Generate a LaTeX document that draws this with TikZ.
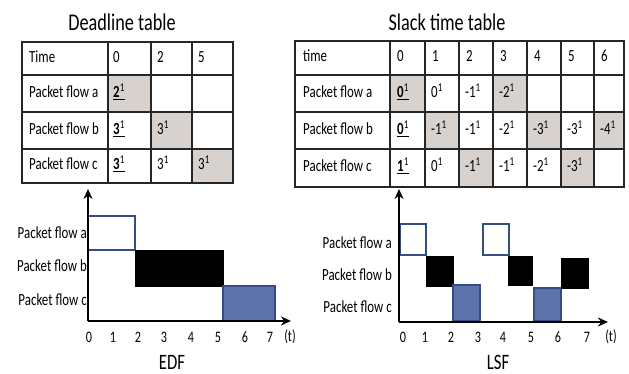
\documentclass[tikz,border=0pt]{standalone}
\usepackage{fontspec}
\setmainfont[FakeStretch=0.76]{Carlito}
\usetikzlibrary{positioning, arrows.meta}

\definecolor{cellgray}{RGB}{216,210,206}
\definecolor{flowblue}{RGB}{92,116,170}
\definecolor{edgeblue}{RGB}{52,78,132}

\newcommand{\nowval}[1]{\underline{\textbf{#1}\textsuperscript{1}}}
\newcommand{\pval}[1]{#1\textsuperscript{1}}

\tikzset{
  tabline/.style={draw=black!85, line width=1.3pt, line cap=rect},
  celltext/.style={anchor=west, inner sep=0pt, text height=11pt, text depth=3pt, font=\fontsize{17}{19}\selectfont},
  tabtitle/.style={font=\fontsize{24}{27}\selectfont},
  flowlabel/.style={anchor=east, inner sep=0pt, font=\fontsize{17}{19}\selectfont},
  ticklabel/.style={inner sep=0pt, font=\fontsize{16}{18}\selectfont},
  algname/.style={font=\fontsize{22}{25}\selectfont},
  slota/.style={draw=edgeblue, line width=1.5pt, fill=white},
  slotb/.style={draw=black, line width=1pt, fill=black},
  slotc/.style={draw=edgeblue, line width=1.5pt, fill=flowblue},
  axis/.style={line width=1.8pt, -{Stealth[length=10pt,width=9pt]}},
}

\begin{document}
\begin{tikzpicture}[x=1pt, y=-1pt]
\useasboundingbox (0,0) rectangle (629,374);

% deadline table
\node (dtitle) [tabtitle] at (122,22) {Deadline table};
\fill [cellgray] (108,75) rectangle (151,112);
\fill [cellgray] (151,112) rectangle (192,149);
\fill [cellgray] (192,149) rectangle (233,183);
\foreach \y in {42,75,112,149,183} \draw [tabline] (22,\y) -- (233,\y);
\foreach \x in {22,108,151,192,233} \draw [tabline] (\x,42) -- (\x,183);
\node (dh) [celltext] at (29,58.5) {Time};
\node (dh0) [celltext] at (113,58.5) {0};
\node (dh2) [celltext] at (157,58.5) {2};
\node (dh5) [celltext] at (198,58.5) {5};
\node (da) [celltext] at (29,93.5) {Packet flow a};
\node (da0) [celltext] at (113,93.5) {\nowval{2}};
\node (db) [celltext] at (29,130.5) {Packet flow b};
\node (db0) [celltext] at (113,130.5) {\nowval{3}};
\node (db2) [celltext] at (157,130.5) {\pval{3}};
\node (dc) [celltext] at (29,166) {Packet flow c};
\node (dc0) [celltext] at (113,166) {\nowval{3}};
\node (dc2) [celltext] at (157,166) {\pval{3}};
\node (dc5) [celltext] at (198,166) {\pval{3}};

% slack time table
\node (stitle) [tabtitle] at (447,22) {Slack time table};
\fill [cellgray] (390,75) rectangle (425,112);
\fill [cellgray] (493,75) rectangle (527,112);
\fill [cellgray] (425,112) rectangle (459,149);
\fill [cellgray] (527,112) rectangle (561,149);
\fill [cellgray] (594,112) rectangle (624,149);
\fill [cellgray] (459,149) rectangle (493,187);
\fill [cellgray] (561,149) rectangle (594,187);
\foreach \y in {41,75,112,149,187} \draw [tabline] (295,\y) -- (624,\y);
\foreach \x in {295,390,425,459,493,527,561,594,624} \draw [tabline] (\x,41) -- (\x,187);
\node (sh) [celltext] at (303,58) {time};
\foreach \x/\v [count=\i from 0] in {390/0,425/1,459/2,493/3,527/4,561/5,594/6}
  \node (sh\i) [celltext] at (\x+7,58) {\v};
\node (sa) [celltext] at (303,93.5) {Packet flow a};
\node (sa0) [celltext] at (397,93.5) {\nowval{0}};
\foreach \x/\v [count=\i] in {425/0,459/-1,493/-2}
  \node (sa\i) [celltext] at (\x+6,93.5) {\pval{\v}};
\node (sb) [celltext] at (303,130.5) {Packet flow b};
\node (sb0) [celltext] at (397,130.5) {\nowval{0}};
\foreach \x/\v [count=\i] in {425/-1,459/-1,493/-2,527/-3,561/-3,594/-4}
  \node (sb\i) [celltext] at (\x+6,130.5) {\pval{\v}};
\node (sc) [celltext] at (303,168) {Packet flow c};
\node (sc0) [celltext] at (397,168) {\nowval{1}};
\foreach \x/\v [count=\i] in {425/0,459/-1,493/-1,527/-2,561/-3}
  \node (sc\i) [celltext] at (\x+6,168) {\pval{\v}};

% EDF schedule
\coordinate (eo) at (88,321);
\coordinate (ey) at (88,189);
\coordinate (ex) at (291,321);
\draw [slota] (88,216) rectangle (135,250);
\draw [slotb] (135,250) rectangle (223,286);
\draw [slotc] (223,286) rectangle (275,321);
\node (ela) [flowlabel] at (87,233) {Packet flow a};
\node (elb) [flowlabel] at (87,266) {Packet flow b};
\node (elc) [flowlabel] at (87,300) {Packet flow c};
\draw [axis] (eo) -- (ey);
\draw [axis] (eo) -- (ex);
\node (et0) [ticklabel] at (89,337) {0};  \node (et1) [ticklabel] at (113,337) {1};
\node (et2) [ticklabel] at (138,337) {2}; \node (et3) [ticklabel] at (164,337) {3};
\node (et4) [ticklabel] at (191,337) {4}; \node (et5) [ticklabel] at (218,337) {5};
\node (et6) [ticklabel] at (245,337) {6}; \node (et7) [ticklabel] at (270,337) {7};
\node (ett) [ticklabel] at (290,337) {(t)};
\node (edf) [algname] at (172,362) {EDF};

% LSF schedule
\coordinate (lo) at (399,322);
\coordinate (ly) at (399,189);
\coordinate (lx) at (608,322);
\draw [slota] (400,224) rectangle (426,255);
\draw [slotb] (426,256) rectangle (453,286);
\draw [slotc] (453,285) rectangle (480,321);
\draw [slota] (483,224) rectangle (509,255);
\draw [slotb] (508,256) rectangle (532,285);
\draw [slotc] (534,288) rectangle (561,321);
\draw [slotb] (561,258) rectangle (588,288);
\node (lla) [flowlabel] at (392,243) {Packet flow a};
\node (llb) [flowlabel] at (392,275) {Packet flow b};
\node (llc) [flowlabel] at (392,307) {Packet flow c};
\draw [axis] (lo) -- (ly);
\draw [axis] (lo) -- (lx);
\node (lt0) [ticklabel] at (403,337) {0}; \node (lt1) [ticklabel] at (425,337) {1};
\node (lt2) [ticklabel] at (451,337) {2}; \node (lt3) [ticklabel] at (478,337) {3};
\node (lt4) [ticklabel] at (503,337) {4}; \node (lt5) [ticklabel] at (531,337) {5};
\node (lt6) [ticklabel] at (558,337) {6}; \node (lt7) [ticklabel] at (587,337) {7};
\node (ltt) [ticklabel] at (611,337) {(t)};
\node (lsf) [algname] at (498,362) {LSF};
\end{tikzpicture}
\end{document}
